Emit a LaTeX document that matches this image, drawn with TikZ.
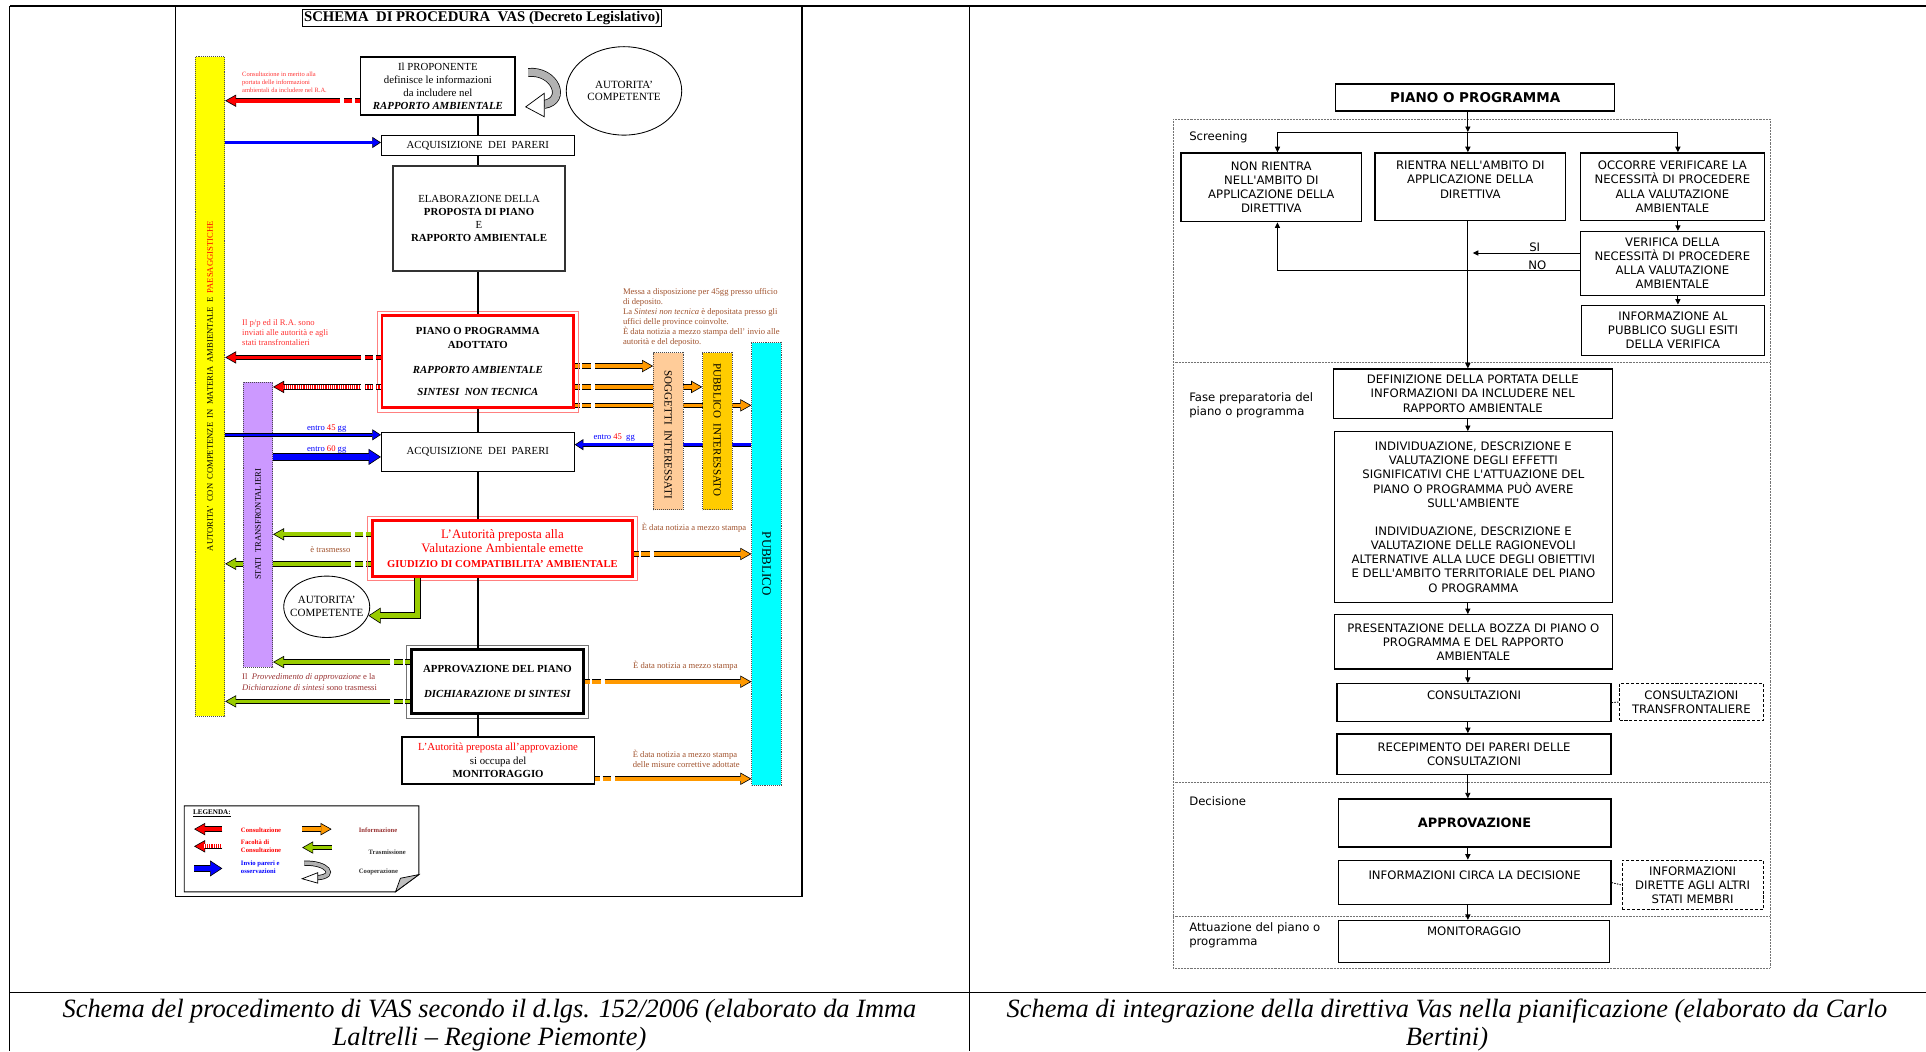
\documentclass[tikz,border=0pt]{standalone}
\usepackage{fontspec}
\setmainfont{Liberation Serif}
\newfontfamily\verd{DejaVu Sans}
\usetikzlibrary{calc,arrows.meta,shapes.geometric}
\pgfdeclarelayer{bg}
\pgfsetlayers{bg,main}
\definecolor{giallo}{HTML}{FFFF00}
\definecolor{lilla}{HTML}{CC99FF}
\definecolor{pesca}{HTML}{FFCC99}
\definecolor{oro}{HTML}{FFCC00}
\definecolor{ciano}{HTML}{00FFFF}
\definecolor{rosso}{HTML}{FF0000}
\definecolor{rosa}{HTML}{FF8080}
\definecolor{rossochiaro}{HTML}{FF3333}
\definecolor{rossoscuro}{HTML}{993333}
\definecolor{marrone}{HTML}{A0522D}
\definecolor{arancio}{HTML}{FF9900}
\definecolor{verde}{HTML}{99CC00}
\definecolor{blu}{HTML}{0000FF}
\tikzset{
  cornice/.style={draw=black, line width=1.3pt},
  box/.style={draw=black, line width=1.2pt, fill=white, align=center, inner sep=1pt, font=\fontsize{8.8}{10.5}\selectfont},
  thinbox/.style={box, line width=0.8pt},
  bar/.style={draw=black!70, line width=0.6pt, dash pattern=on 0.8pt off 0.8pt, inner sep=0pt, minimum width=24pt},
  bartxt/.style={inner sep=0pt, font=\fontsize{7}{8}\selectfont},
  ell/.style={ellipse, draw=black, line width=0.7pt, fill=white, align=center, inner sep=0pt, font=\fontsize{9}{10.5}\selectfont},
  trunk/.style={draw=black, line width=1.4pt},
  dsh/.style={dash pattern=on 4pt off 2pt on 7pt off 3pt on 800pt},
  blk/.style={draw=black, line width=4.4pt, -{Triangle[length=9pt,width=10pt,fill=#1,line width=0.5pt]}, postaction={draw=#1, line width=3pt, -, shorten >=8.3pt}},
  blkt/.style={draw=black, line width=3.2pt, -{Triangle[length=7pt,width=9pt,fill=#1,line width=0.5pt]}, postaction={draw=#1, line width=2pt, -, shorten >=6.3pt}},
  blkb/.style={draw=black, line width=6pt, -{Triangle[length=10pt,width=13pt,fill=#1,line width=0.5pt]}, postaction={draw=#1, line width=4.4pt, -, shorten >=9.3pt}},
  hatch/.style 2 args={postaction={draw=white, line width=#1, dash pattern=on 0.7pt off 1.1pt, -, shorten >=#2}},
  lab/.style={inner sep=0pt, align=left, font=\fontsize{7}{8.2}\selectfont},
  leglab/.style={inner sep=0pt, anchor=west, align=left, font=\bfseries\fontsize{5.4}{6.4}\selectfont},
  rbox/.style={draw=black, line width=1.1pt, fill=white, align=center, inner sep=1pt, font=\verd\fontsize{9.5}{11.5}\selectfont},
  rdash/.style={rbox, line width=0.7pt, dash pattern=on 2.5pt off 1.5pt},
  rline/.style={draw=black, line width=0.7pt},
  rarr/.style={rline, -{Triangle[length=4.5pt,width=4.2pt]}},
  sect/.style={draw=black!55, line width=0.6pt, dash pattern=on 0.6pt off 0.6pt},
  rlab/.style={inner sep=0pt, anchor=west, align=left, font=\verd\fontsize{9.5}{11.5}\selectfont},
  capt/.style={inner sep=0pt, align=center, font=\itshape\fontsize{21.5}{23}\selectfont},
}

\begin{document}
\begin{tikzpicture}[x=1pt, y=-1pt]
  \useasboundingbox (0,0) rectangle (1568,856);
  % table
  \draw[line width=1.6pt] (8,5) -- (1568,5);
  \draw[line width=0.7pt] (8,5) -- (8,856) (789,5) -- (789,856) (8,808) -- (1568,808);

  % ---- left scheme
  \draw[cornice] (143,5) rectangle (653,730);
  \node[draw, line width=0.8pt, inner sep=1.2pt, font=\bfseries\fontsize{12}{13}\selectfont] (tit) at (392.5,14.5) {SCHEMA\ \ DI PROCEDURA\ \ VAS (Decreto Legislativo)};

  \node[bar, fill=giallo, minimum height=537pt] (yell) at (171,314.5) {};
  \node[bar, fill=lilla, minimum height=232pt] (purp) at (210,427) {};
  \node[bar, fill=pesca, minimum height=128pt] (sogg) at (544,351) {};
  \node[bar, fill=oro, minimum height=128pt] (pubi) at (584,351) {};
  \node[bar, fill=ciano, minimum height=360pt] (pubb) at (624,459) {};
  \node[bartxt, rotate=90] (tyell) at (yell) {AUTORITA’\ \ CON\ \ COMPETENZE\ \ IN\ \ MATERIA\ \ AMBIENTALE\ \ E\ \ \textcolor{rosso}{PAESAGGISTICHE}};
  \node[bartxt, rotate=90] (tpurp) at (purp) {STATI\ \ TRANSFRONTALIERI};
  \node[bartxt, rotate=-90, font=\fontsize{9}{10}\selectfont] (tsogg) at (544,354) {SOGGETTI\ \ INTERESSATI};
  \node[bartxt, rotate=-90, font=\fontsize{9}{10}\selectfont] (tpubi) at (584,350) {PUBBLICO\ \ INTERESSATO};
  \node[bartxt, rotate=-90, font=\fontsize{10.5}{12}\selectfont] (tpubb) at (pubb) {PUBBLICO};

  \node[box, line width=1.5pt, minimum width=126pt, minimum height=47pt] (prop) at (356.5,70) {Il PROPONENTE\\definisce le informazioni\\da includere nel\\\textbf{\textit{RAPPORTO AMBIENTALE}}};
  \node[ell, minimum width=94pt, minimum height=72pt] (autc1) at (508,74) {AUTORITA’\\COMPETENTE};
  \node[thinbox, minimum width=157pt, minimum height=16pt] (ac1) at (389,118.5) {ACQUISIZIONE\ \ DEI\ \ PARERI};
  \node[box, draw=black!80, line width=1.6pt, minimum width=140pt, minimum height=86pt, font=\fontsize{8.8}{10.7}\selectfont] (elab) at (390,178) {ELABORAZIONE DELLA\\\textbf{PROPOSTA DI PIANO}\\E\\\textbf{RAPPORTO AMBIENTALE}};
  \node[box, draw=rosso, line width=2.4pt, minimum width=156pt, minimum height=75pt, font=\bfseries\fontsize{8.8}{11}\selectfont] (adot) at (389,294.5) {PIANO O PROGRAMMA\\ADOTTATO\\[10pt]\textit{RAPPORTO AMBIENTALE}\\[7pt]\textit{SINTESI\ \ NON TECNICA}};
  \draw[rosa, line width=0.7pt] ($(adot.north west)+(-2.5,-2.5)$) rectangle ($(adot.south east)+(2.5,2.5)$);
  \node[thinbox, minimum width=157pt, minimum height=31pt] (ac2) at (389,368) {ACQUISIZIONE\ \ DEI\ \ PARERI};
  \node[box, draw=rosso, line width=2.4pt, text=rosso, minimum width=212pt, minimum height=45pt, font=\fontsize{10.5}{12}\selectfont] (giud) at (409,446.5) {L’Autorità preposta alla\\Valutazione Ambientale emette\\{\bfseries\fontsize{8.6}{12}\selectfont GIUDIZIO DI COMPATIBILITA’ AMBIENTALE}};
  \draw[rosa, line width=0.7pt] ($(giud.north west)+(-2.5,-2.5)$) rectangle ($(giud.south east)+(2.5,2.5)$);
  \node[ell, inner sep=-5pt, minimum width=70pt, minimum height=50pt] (autc2) at (266,494) {AUTORITA’\\COMPETENTE};
  \node[box, line width=2.4pt, minimum width=140pt, minimum height=52pt, font=\bfseries\fontsize{8.8}{12}\selectfont] (appr) at (405,555) {APPROVAZIONE DEL PIANO\\[8pt]\textit{DICHIARAZIONE DI SINTESI}};
  \draw[black!55, line width=0.8pt] ($(appr.north west)+(-2.5,-2.5)$) rectangle ($(appr.south east)+(2.5,2.5)$);
  \node[box, line width=1.4pt, minimum width=157pt, minimum height=38pt, font=\fontsize{8.8}{11}\selectfont] (moni) at (405.5,619) {\textcolor{rosso}{L’Autorità preposta all’approvazione}\\si occupa del\\\textbf{MONITORAGGIO}};

  % trunk
  \coordinate (trk) at (389,0);
  \draw[trunk] (prop.south -| trk) -- (ac1.north -| trk);
  \draw[trunk] (ac1.south -| trk) -- (elab.north -| trk);
  \draw[trunk] (elab.south -| trk) -- (adot.north -| trk);
  \draw[trunk] (adot.south -| trk) -- (ac2.north -| trk);
  \draw[trunk] (ac2.south -| trk) -- (giud.north -| trk);
  \draw[trunk] (giud.south -| trk) -- (appr.north -| trk);
  \draw[trunk] (appr.south -| trk) -- (moni.north -| trk);

  % cooperation
  \begin{scope}[shift={(428,55)}]
    \draw[line width=0.6pt, double=black!30, double distance=6pt] (2,4) .. controls (24,2) and (34,27) .. (15,30);
    \draw[line width=0.6pt, fill=white] (15,21) -- (0,32) -- (15,40) -- cycle;
  \end{scope}

  % arrows behind the bars
  \begin{pgfonlayer}{bg}
    \draw[blk=arancio, dsh] (adot.east |- 0,298) -- (sogg.west |- 0,298);
    \draw[blk=arancio, dsh] (adot.east |- 0,315) -- (pubi.west |- 0,315);
    \draw[blk=arancio, dsh] (adot.east |- 0,330) -- (pubb.west |- 0,330);
    \draw[blkt=blu] (pubb.west |- 0,362) -- (ac2.east |- 0,362);
    \draw[blk=verde, dsh] (giud.west |- 0,459) -- (yell.east |- 0,459);
  \end{pgfonlayer}
  \draw[blk=rosso, dsh] (prop.west |- 0,82) -- (yell.east |- 0,82);
  \draw[blkt=blu] (yell.east |- 0,116) -- (ac1.west |- 0,116);
  \draw[blk=rosso, dsh] (adot.west |- 0,291) -- (yell.east |- 0,291);
  \draw[blk=rosso, dsh, hatch={3pt}{8.3pt}] (adot.west |- 0,315) -- (purp.east |- 0,315);
  \draw[blkt=blu] (yell.east |- 0,354) -- (ac2.west |- 0,354);
  \draw[blkb=blu] (purp.east |- 0,372) -- (ac2.west |- 0,372);
  \draw[blk=verde, dsh] (giud.west |- 0,435) -- (purp.east |- 0,435);
  \draw[blk=arancio, dsh] (giud.east |- 0,451) -- (pubb.west |- 0,451);
  \draw[blkb=verde] (giud.south -| 340,0) |- (autc2.-12);
  \draw[blk=verde, dsh] (appr.west |- 0,539) -- (purp.east |- 0,539);
  \draw[blk=verde, dsh] (appr.west |- 0,571) -- (yell.east |- 0,571);
  \draw[blk=arancio, dsh] (appr.east |- 0,555) -- (pubb.west |- 0,555);
  \draw[blk=arancio, dsh] (moni.east |- 0,634) -- (pubb.west |- 0,634);

  % notes
  \node[lab, anchor=west, text=rossochiaro, font=\fontsize{5.3}{6.2}\selectfont] (lcons) at (197,67) {Consultazione in merito alla\\portata delle informazioni\\ambientali da includere nel R.A.};
  \node[lab, anchor=west, text=rossochiaro] (linv) at (197,271) {Il p/p ed il R.A. sono\\inviati alle autorità e agli\\stati transfrontalieri};
  \node[lab, anchor=west, text=marrone] (lmes) at (507,258.5) {Messa a disposizione per 45gg presso ufficio\\di deposito.\\La \textit{Sintesi non tecnica} è depositata presso gli\\uffici delle province coinvolte.\\È data notizia a mezzo stampa dell’ invio alle\\autorità e del deposito.};
  \node[lab] (l45a) at (266,349) {\textcolor{blu}{entro} \textcolor{rosso}{45}\ \textcolor{blu}{gg}};
  \node[lab] (l60) at (266,366) {\textcolor{blu}{entro} \textcolor{rosso}{60}\ \textcolor{blu}{gg}};
  \node[lab] (l45b) at (500,356) {\textcolor{blu}{entro} \textcolor{rosso}{45}\ \ \textcolor{blu}{gg}};
  \node[lab, text=marrone] (ltras) at (269,447) {è trasmesso};
  \node[lab, text=marrone] (lst1) at (565,430) {È data notizia a mezzo stampa};
  \node[lab, anchor=west, text=rossoscuro, font=\fontsize{7}{9}\selectfont] (lprov) at (197,555.5) {Il\ \ \textit{Provvedimento di approvazione} e la\\\textit{Dichiarazione di sintesi} sono trasmessi};
  \node[lab, text=marrone] (lst2) at (558,542) {È data notizia a mezzo stampa};
  \node[lab, anchor=west, text=marrone] (lst3) at (515,618) {È data notizia a mezzo stampa\\delle misure correttive adottate};

  % legend
  \draw[line width=0.8pt, fill=white] (150,656) -- (341,656) -- (341,712) -- (322,726) -- (150,726) -- cycle;
  \draw[line width=0.6pt, fill=black!25] (322,726) -- (326,715) -- (341,712) -- cycle;
  \node[leglab, font=\bfseries\fontsize{5.8}{7}\selectfont] (leg) at (157,662) {\underline{LEGENDA:}};
  \coordinate (la1) at (181,675); \coordinate (lb1) at (158,675);
  \coordinate (la2) at (246,675); \coordinate (lb2) at (270,675);
  \coordinate (la3) at (181,689); \coordinate (lb3) at (158,689);
  \coordinate (la4) at (270,690); \coordinate (lb4) at (246,690);
  \coordinate (la5) at (158,707); \coordinate (lb5) at (181,707);
  \draw[blk=rosso] (la1) -- (lb1);
  \draw[blk=arancio] (la2) -- (lb2);
  \draw[blk=rosso, hatch={3pt}{8.3pt}] (la3) -- (lb3);
  \draw[blk=verde] (la4) -- (lb4);
  \draw[blkb=blu] (la5) -- (lb5);
  \begin{scope}[shift={(246,701)}, xscale=0.85, yscale=0.45]
    \draw[line width=0.6pt, double=black!30, double distance=3pt] (2,4) .. controls (24,2) and (34,27) .. (15,30);
    \draw[line width=0.6pt, fill=white] (15,21) -- (0,32) -- (15,40) -- cycle;
  \end{scope}
  \node[leglab, text=rosso] (lg1) at (196,676) {Consultazione};
  \node[leglab, text=rossoscuro] (lg2) at (292,676) {Informazione};
  \node[leglab, text=rosso] (lg3) at (196,689) {Facoltà di\\Consultazione};
  \node[leglab, text=black!80] (lg4) at (300,694) {Trasmissione};
  \node[leglab, text=blu] (lg5) at (196,706) {Invio pareri e\\osservazioni};
  \node[leglab, text=black!80] (lg6) at (292,710) {Cooperazione};

  % ---- right scheme
  \draw[sect] (955,97) rectangle (1441,788);
  \draw[sect] (955,295) -- (1441,295);
  \draw[sect] (955,637) -- (1441,637);
  \draw[sect] (955,746) -- (1441,746);
  \node[rlab] (lscr) at (968,112) {Screening};
  \node[rlab] (lfase) at (968,330) {Fase preparatoria del\\piano o programma};
  \node[rlab] (ldec) at (968,652) {Decisione};
  \node[rlab] (latt) at (968,761.5) {Attuazione del piano o\\programma};

  \node[rbox, minimum width=227pt, minimum height=22pt, font=\verd\bfseries\fontsize{11}{13}\selectfont] (pp) at (1201,79.5) {PIANO O PROGRAMMA};
  \node[rbox, minimum width=147pt, minimum height=56pt] (nonr) at (1035,152.5) {NON RIENTRA\\NELL'AMBITO DI\\APPLICAZIONE DELLA\\DIRETTIVA};
  \node[rbox, minimum width=155pt, minimum height=55pt] (rientra) at (1197,152) {RIENTRA NELL'AMBITO DI\\APPLICAZIONE DELLA\\DIRETTIVA\\\mbox{}};
  \node[rbox, minimum width=150pt, minimum height=55pt] (occ) at (1361.5,152) {OCCORRE VERIFICARE LA\\NECESSITÀ DI PROCEDERE\\ALLA VALUTAZIONE\\AMBIENTALE};
  \node[rbox, minimum width=150pt, minimum height=52pt] (verif) at (1361.5,214.5) {VERIFICA DELLA\\NECESSITÀ DI PROCEDERE\\ALLA VALUTAZIONE\\AMBIENTALE};
  \node[rbox, minimum width=149pt, minimum height=41pt] (infv) at (1362,269) {INFORMAZIONE AL\\PUBBLICO SUGLI ESITI\\DELLA VERIFICA};
  \node[rbox, minimum width=227pt, minimum height=40pt] (defin) at (1199,320.5) {DEFINIZIONE DELLA PORTATA DELLE\\INFORMAZIONI DA INCLUDERE NEL\\RAPPORTO AMBIENTALE};
  \node[rbox, minimum width=226pt, minimum height=139pt] (indiv) at (1199.5,421) {INDIVIDUAZIONE, DESCRIZIONE E\\VALUTAZIONE DEGLI EFFETTI\\SIGNIFICATIVI CHE L'ATTUAZIONE DEL\\PIANO O PROGRAMMA PUÒ AVERE\\SULL'AMBIENTE\\[11.5pt]INDIVIDUAZIONE, DESCRIZIONE E\\VALUTAZIONE DELLE RAGIONEVOLI\\ALTERNATIVE ALLA LUCE DEGLI OBIETTIVI\\E DELL'AMBITO TERRITORIALE DEL PIANO\\O PROGRAMMA};
  \node[rbox, minimum width=226pt, minimum height=44pt] (pres) at (1199.5,522.5) {PRESENTAZIONE DELLA BOZZA DI PIANO O\\PROGRAMMA E DEL RAPPORTO\\AMBIENTALE};
  \node[rbox, minimum width=223pt, minimum height=31pt] (cons) at (1200,572) {CONSULTAZIONI\\\mbox{}};
  \node[rdash, minimum width=117pt, minimum height=30pt] (transf) at (1377,571.5) {CONSULTAZIONI\\TRANSFRONTALIERE};
  \node[rbox, minimum width=223pt, minimum height=33pt] (recep) at (1200,614) {RECEPIMENTO DEI PARERI DELLE\\CONSULTAZIONI};
  \node[rbox, minimum width=222pt, minimum height=39pt, font=\verd\bfseries\fontsize{10.5}{12}\selectfont] (appz) at (1200.5,670) {APPROVAZIONE};
  \node[rbox, minimum width=222pt, minimum height=36pt] (infc) at (1200.5,718.5) {INFORMAZIONI CIRCA LA DECISIONE\\\mbox{}};
  \node[rdash, minimum width=115pt, minimum height=40pt] (infd) at (1378,720.5) {INFORMAZIONI\\DIRETTE AGLI ALTRI\\STATI MEMBRI};
  \node[rbox, minimum width=221pt, minimum height=34pt] (monit) at (1200,766.5) {MONITORAGGIO\\[5pt]\mbox{}};

  \coordinate (rt) at (1195,0);
  \coordinate (bl) at (1040,107.5);
  \coordinate (bm) at (1195,107.5);
  \coordinate (br) at (1366,107.5);
  \coordinate (si) at (1199,206);
  \draw[rarr] (pp.south -| rt) -- (bm);
  \draw[rline] (bl) -- (br);
  \draw[rarr] (bl) -- (bl |- nonr.north);
  \draw[rarr] (bm) -- (bm |- rientra.north);
  \draw[rarr] (br) -- (br |- occ.north);
  \draw[rarr] (occ.south -| br) -- (verif.north -| br);
  \draw[rarr] (verif.south -| br) -- (infv.north -| br);
  \draw[rarr] (verif.west |- si) -- (si) node[pos=0.42, above=0.5pt, rlab, anchor=south] {SI};
  \draw[rarr] (verif.west |- 0,220) -| (nonr.south -| bl) node[pos=0.07, above=0.5pt, rlab, anchor=south] {NO};
  \draw[rarr] (rientra.south -| rt) -- (defin.north -| rt);
  \draw[rarr] (defin.south -| rt) -- (indiv.north -| rt);
  \draw[rarr] (indiv.south -| rt) -- (pres.north -| rt);
  \draw[rarr] (pres.south -| rt) -- (cons.north -| rt);
  \draw[rarr] (cons.south -| rt) -- (recep.north -| rt);
  \draw[rarr] (recep.south -| rt) -- (appz.north -| rt);
  \draw[rarr] (appz.south -| rt) -- (infc.north -| rt);
  \draw[rarr] (infc.south -| rt) -- (monit.north -| rt);
  \draw[rline, dash pattern=on 1.2pt off 1pt] (cons.east) -- (transf.west);
  \draw[rline, dash pattern=on 1.2pt off 1pt] (infc.east) -- (infd.west);

  % captions
  \node[capt] (capl) at (398.5,834.5) {Schema del procedimento di VAS secondo il d.lgs. 152/2006 (elaborato da Imma\\Laltrelli – Regione Piemonte)};
  \node[capt] (capr) at (1178,834.5) {Schema di integrazione della direttiva Vas nella pianificazione (elaborato da Carlo\\Bertini)};
\end{tikzpicture}
\end{document}
